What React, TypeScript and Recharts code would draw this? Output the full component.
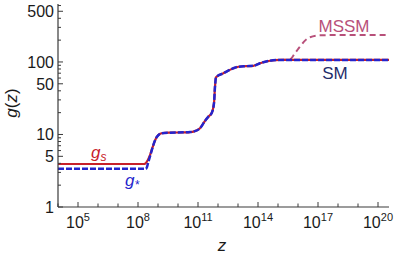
import React from "react";
import { LineChart, Line, XAxis, YAxis } from "recharts";

// log10(z) positions and g values
const gsExp = [4, 8.3, 8.35, 8.6, 8.77, 8.93, 9.18, 9.6, 10.3, 10.6, 10.77, 11.1, 11.35, 11.52, 11.68, 11.8, 11.85, 11.9, 12.27, 12.77, 13.02, 13.4, 13.77, 14.1, 14.6, 15.1, 17, 20.6];
const gsVal = [3.92, 3.92, 3.95, 5.2, 7.2, 9.15, 10.4, 10.6, 10.7, 10.8, 10.95, 12.2, 15.4, 17.6, 19.6, 27, 45.6, 61.5, 69.8, 81.9, 86, 87.5, 88.5, 96, 104, 106.75, 106.75, 106.75];

const gstarExp = [4, 8.38, 8.44, 8.52, 8.62, 8.77, 8.93, 9.18, 9.6, 10.3, 10.6, 10.77, 11.1, 11.35, 11.52, 11.68, 11.8, 11.85, 11.9, 12.27, 12.77, 13.02, 13.4, 13.77, 14.1, 14.6, 15.1, 17, 20.6];
const gstarVal = [3.36, 3.36, 3.5, 4.2, 5.2, 7.2, 9.15, 10.4, 10.6, 10.7, 10.8, 10.95, 12.2, 15.4, 17.6, 19.6, 27, 45.6, 61.5, 69.8, 81.9, 86, 87.5, 88.5, 96, 104, 106.75, 106.75, 106.75];

const mssmExp = [15.1, 15.6, 15.85, 16.1, 16.35, 16.6, 17.1, 18, 20.6];
const mssmVal = [106.75, 108.7, 132, 163, 197, 219, 233, 235, 235];

const xTickExps = [4, 5, 6, 7, 8, 9, 10, 11, 12, 13, 14, 15, 16, 17, 18, 19, 20];
const xLabelExps = [5, 8, 11, 14, 17, 20];
const yTicks = [1, 2, 3, 4, 5, 6, 7, 8, 9, 10, 20, 30, 40, 50, 60, 70, 80, 90, 100, 200, 300, 400, 500, 600];
const yLabels = [1, 5, 10, 50, 100, 500];

const gsData = gsExp.map((e, i) => ({ e, g: gsVal[i] }));
const gstarData = gstarExp.map((e, i) => ({ e, g: gstarVal[i] }));
const mssmData = mssmExp.map((e, i) => ({ e, g: mssmVal[i] }));

const FONT = "'Liberation Sans', Arial, sans-serif";
const AX = "#3a3a3a";

const BottomTick = (props: any) => {
  const { x, y, payload } = props;
  const v = payload.value;
  const labeled = xLabelExps.includes(v);
  return (
    <g>
      <line x1={x} x2={x} y1={y} y2={y - (labeled ? 5 : 3.5)} stroke={AX} strokeWidth={1} />
      {labeled && (
        <text x={x} y={y + 21} textAnchor="middle" fontSize={16} fill="#1a1a1a" fontFamily={FONT}>
          10<tspan dy={-7} fontSize={11}>{v}</tspan>
        </text>
      )}
    </g>
  );
};

const TopTick = (props: any) => {
  const { x, y, payload } = props;
  const labeled = xLabelExps.includes(payload.value);
  return <line x1={x} x2={x} y1={y} y2={y + (labeled ? 5 : 3.5)} stroke={AX} strokeWidth={1} />;
};

const LeftTick = (props: any) => {
  const { x, y, payload } = props;
  const v = payload.value;
  const labeled = yLabels.includes(v);
  return (
    <g>
      <line x1={x} x2={x + (labeled ? 5 : 3)} y1={y} y2={y} stroke={AX} strokeWidth={1} />
      {labeled && (
        <text x={x - 4} y={y + 6} textAnchor="end" fontSize={16} fill="#1a1a1a" fontFamily={FONT}>
          {v}
        </text>
      )}
    </g>
  );
};

const RightTick = (props: any) => {
  const { x, y, payload } = props;
  const labeled = yLabels.includes(payload.value);
  return <line x1={x} x2={x - (labeled ? 5 : 3)} y1={y} y2={y} stroke={AX} strokeWidth={1} />;
};

export default function App() {
  return (
    <div style={{ position: "absolute", left: 0, top: 0, width: 395, height: 259, background: "#fff" }}>
      <LineChart width={395} height={259} margin={{ top: 4, right: 6, bottom: 0, left: 0 }}>
        <XAxis
          xAxisId="b"
          dataKey="e"
          type="number"
          domain={[4, 20.55]}
          ticks={xTickExps}
          allowDataOverflow
          height={52}
          tickSize={0}
          tickMargin={0}
          tickLine={false}
          tick={<BottomTick />}
          axisLine={{ stroke: AX, strokeWidth: 1.2 }}
          interval={0}
        />
        <XAxis
          xAxisId="t"
          orientation="top"
          dataKey="e"
          type="number"
          domain={[4, 20.55]}
          ticks={xTickExps}
          allowDataOverflow
          height={0}
          tickSize={0}
          tickMargin={0}
          tickLine={false}
          tick={<TopTick />}
          axisLine={{ stroke: AX, strokeWidth: 1.2 }}
          interval={0}
        />
        <YAxis
          yAxisId="l"
          dataKey="g"
          scale="log"
          type="number"
          domain={[1, 630]}
          ticks={yTicks}
          allowDataOverflow
          width={58}
          tickSize={0}
          tickMargin={0}
          tickLine={false}
          tick={<LeftTick />}
          axisLine={{ stroke: AX, strokeWidth: 1.2 }}
          interval={0}
        />
        <YAxis
          yAxisId="r"
          orientation="right"
          scale="log"
          type="number"
          domain={[1, 630]}
          ticks={yTicks}
          allowDataOverflow
          width={0}
          tickSize={0}
          tickMargin={0}
          tickLine={false}
          tick={<RightTick />}
          axisLine={{ stroke: AX, strokeWidth: 1.2 }}
          interval={0}
        />
        <Line
          data={mssmData}
          xAxisId="b"
          yAxisId="l"
          dataKey="g"
          type="monotone"
          stroke="#b8507a"
          strokeWidth={2}
          strokeDasharray="6 4"
          dot={false}
          isAnimationActive={false}
        />
        <Line
          data={gsData}
          xAxisId="b"
          yAxisId="l"
          dataKey="g"
          type="monotone"
          stroke="#c8202a"
          strokeWidth={2.2}
          dot={false}
          isAnimationActive={false}
        />
        <Line
          data={gstarData}
          xAxisId="b"
          yAxisId="l"
          dataKey="g"
          type="monotone"
          stroke="#2424cc"
          strokeWidth={2.5}
          strokeDasharray="6 2"
          dot={false}
          isAnimationActive={false}
        />
      </LineChart>
      <svg width={395} height={259} style={{ position: "absolute", left: 0, top: 0, pointerEvents: "none" }}>
        <text x={0} y={0} transform="translate(17 103) rotate(-90)" textAnchor="middle" fontSize={17} fill="#1a1a1a" fontFamily={FONT}>
          <tspan fontStyle="italic">g</tspan>(<tspan fontStyle="italic">z</tspan>)
        </text>
        <text x={222} y={251} textAnchor="middle" fontSize={17} fontStyle="italic" fill="#1a1a1a" fontFamily={FONT}>z</text>
        <text x={91} y={158} fontSize={17} fontStyle="italic" fill="#c8202a" fontFamily={FONT}>
          g<tspan dy={3} fontSize={12}>s</tspan>
        </text>
        <text x={125} y={186} fontSize={17} fontStyle="italic" fill="#2424cc" fontFamily={FONT}>
          g<tspan dy={3} fontSize={12}>*</tspan>
        </text>
        <text x={344} y={32} textAnchor="middle" fontSize={17} fill="#b8507a" fontFamily={FONT}>MSSM</text>
        <text x={335} y={79} textAnchor="middle" fontSize={17} fill="#1f2d6b" fontFamily={FONT}>SM</text>
      </svg>
    </div>
  );
}
